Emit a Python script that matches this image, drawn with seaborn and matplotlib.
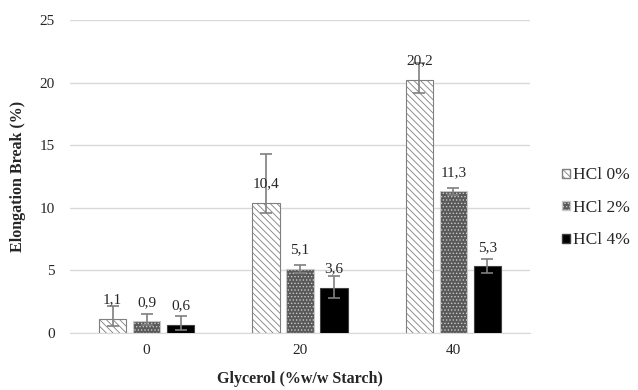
import numpy as np
import pandas as pd
import seaborn as sns
import matplotlib.pyplot as plt
import matplotlib.patches as mpatches

glycerol = ['0', '20', '40']
hcl_groups = ['HCl 0%', 'HCl 2%', 'HCl 4%']
hcl0 = [1.1, 10.4, 20.2]
hcl2 = [0.9, 5.1, 11.3]
hcl4 = [0.6, 3.6, 5.3]
# error bars (minus, plus)
err0 = [[0.6, 0.8, 1.0], [1.0, 3.9, 1.4]]
err2 = [[0.3, 0.3, 0.3], [0.6, 0.3, 0.3]]
err4 = [[0.4, 0.8, 0.55], [0.7, 0.9, 0.55]]

df = pd.DataFrame({
    'Glycerol': glycerol * 3,
    'HCl': [h for h in hcl_groups for _ in glycerol],
    'Elongation': hcl0 + hcl2 + hcl4,
})

sns.set_style('white')
plt.rcParams['font.family'] = ['Liberation Serif', 'DejaVu Serif']
plt.rcParams['hatch.linewidth'] = 0.6

fig = plt.figure(figsize=(6.38, 3.9), dpi=100)
ax = fig.add_axes([0.1097, 0.1474, 0.7210, 0.8013])

sns.barplot(data=df, x='Glycerol', y='Elongation', hue='HCl', order=glycerol,
            hue_order=hcl_groups, width=0.664, gap=0.2, errorbar=None,
            palette=['white', '#595959', 'black'], ax=ax, legend=False, zorder=3)

styles = [
    dict(facecolor='white', edgecolor='#7f7f7f', hatch='\\' * 5),
    dict(facecolor='#595959', edgecolor='#c8c8c8', hatch='.' * 5),
    dict(facecolor='black', edgecolor='#404040', hatch=None),
]
errs = [err0, err2, err4]
vals = [hcl0, hcl2, hcl4]
for cont, st, er, vv in zip(ax.containers, styles, errs, vals):
    xs = []
    for p in cont.patches:
        p.set_facecolor(st['facecolor'])
        p.set_edgecolor(st['edgecolor'])
        p.set_linewidth(0.8)
        if st['hatch']:
            p.set_hatch(st['hatch'])
        xs.append(p.get_x() + p.get_width() / 2)
    ax.errorbar(xs, vv, yerr=er, fmt='none', ecolor='#7f7f7f', elinewidth=1.2,
                capsize=4, capthick=1.2, zorder=4)
    for x, v in zip(xs, vv):
        ax.annotate(f'{v:.1f}'.replace('.', ','), (x, v), xytext=(0, 9),
                    textcoords='offset points', ha='center', va='bottom',
                    fontsize=11, color='#262626', zorder=5)

ax.set_xlim(-0.5, 2.5)
ax.set_ylim(0, 25)
ax.set_yticks([0, 5, 10, 15, 20, 25])
ax.yaxis.grid(True, color='#d9d9d9', linewidth=1)
ax.set_axisbelow(True)
for s in ['top', 'right', 'left']:
    ax.spines[s].set_visible(False)
ax.spines['bottom'].set_color('#d9d9d9')
ax.tick_params(axis='both', length=0, labelsize=11, labelcolor='#262626', pad=8)
ax.tick_params(axis='y', pad=11)
ax.set_xlabel('Glycerol (%w/w Starch)', fontsize=11.5, fontweight='bold', labelpad=10)
ax.set_ylabel('Elongation Break (%)', fontsize=11.5, fontweight='bold', labelpad=10)

handles = [mpatches.Patch(facecolor=st['facecolor'], edgecolor=st['edgecolor'],
                          hatch=st['hatch'], label=lab)
           for st, lab in zip(styles, hcl_groups)]
fig.legend(handles=handles, loc='center left', bbox_to_anchor=(0.857, 0.467),
           frameon=False, fontsize=12.5, handlelength=0.45, handleheight=0.45,
           handletextpad=0.15, labelspacing=0.95)

fig.savefig('out.png', dpi=100)
